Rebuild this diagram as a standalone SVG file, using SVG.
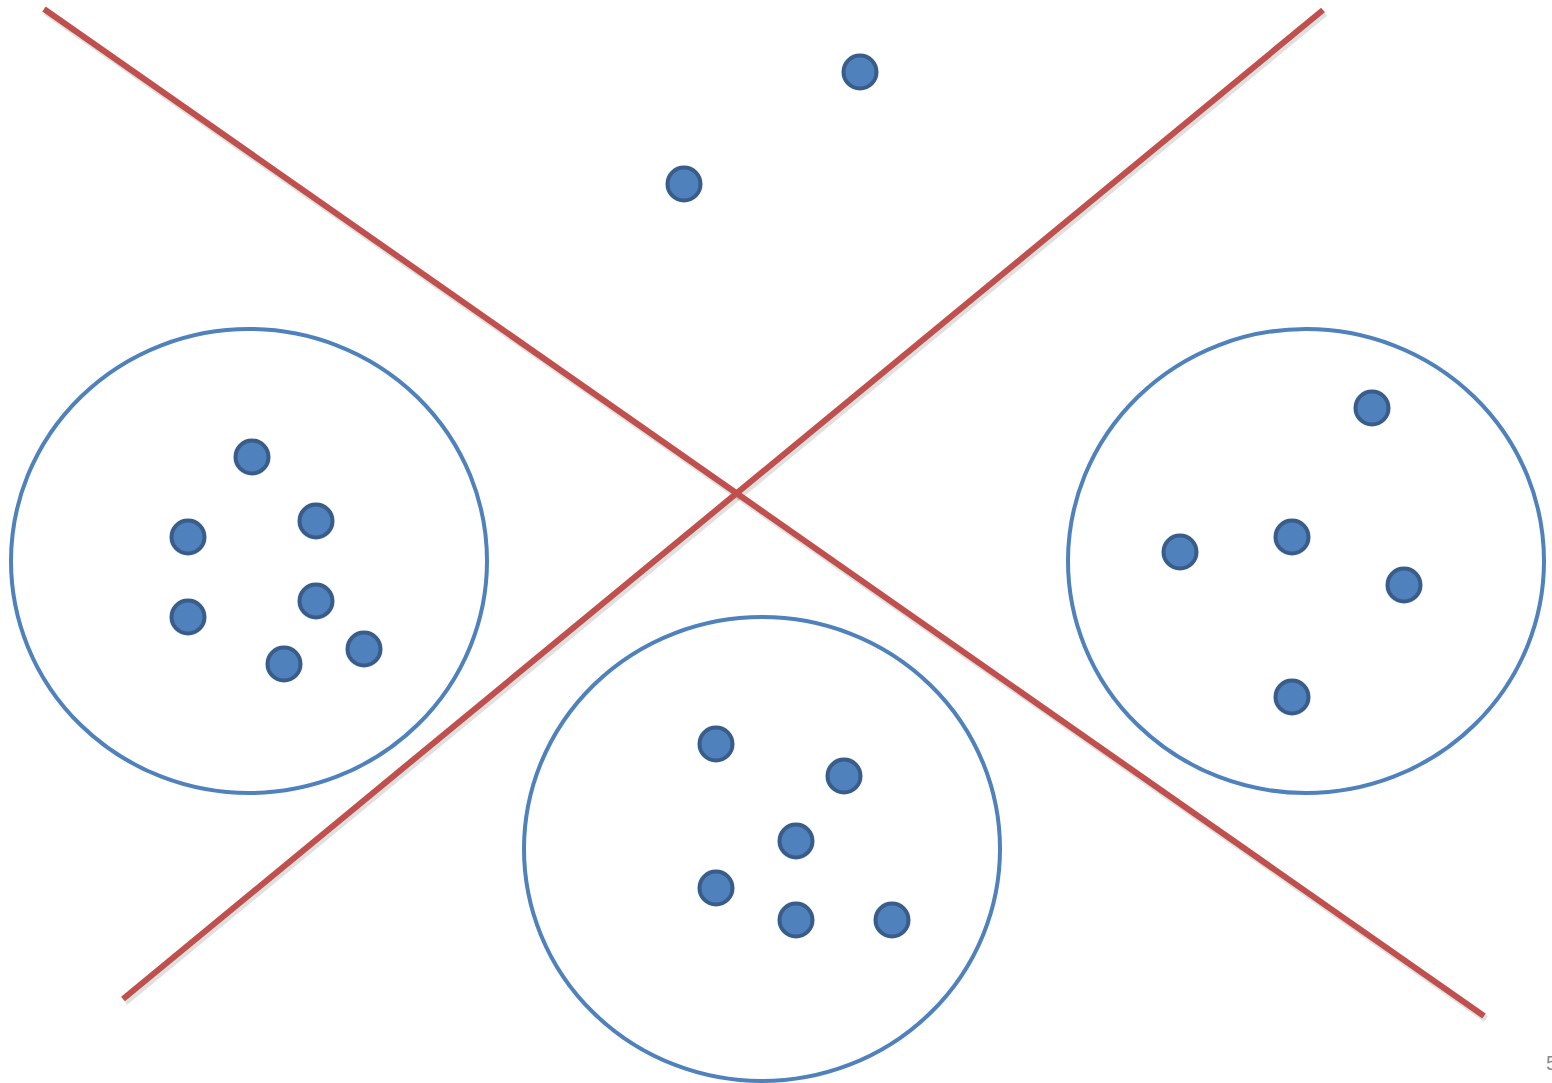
<svg xmlns="http://www.w3.org/2000/svg" width="1552" height="1083" viewBox="0 0 1552 1083">
<defs>
<style>
.cl{fill:none;stroke:#4F81BD;stroke-width:4}
.dv{stroke:#C0504D;stroke-width:6;stroke-linecap:butt}
.sh{stroke:#000;stroke-opacity:0.12;stroke-width:7}
.pt{fill:#4F81BD;stroke:#385D8A;stroke-width:4}
.num{font-family:"Liberation Sans",Arial,sans-serif;font-size:20px;fill:#8C8C8C}
</style>
</defs>
<rect width="1552" height="1083" fill="#fff"/>
<g id="clusters">
<ellipse id="cluster-left" class="cl" cx="249" cy="561" rx="238" ry="232"/>
<ellipse id="cluster-right" class="cl" cx="1306" cy="561" rx="238" ry="232"/>
<ellipse id="cluster-bottom" class="cl" cx="762" cy="849" rx="238" ry="232"/>
</g>
<g id="connectors">
<line class="sh" x1="46" y1="12" x2="1486" y2="1019"/>
<line class="sh" x1="1325" y1="13" x2="125" y2="1002"/>
<line class="dv" x1="44" y1="9" x2="1484" y2="1016"/>
<line class="dv" x1="1323" y1="10" x2="123" y2="999"/>
</g>
<g id="points">
<circle class="pt" cx="860" cy="72" r="16.5"/>
<circle class="pt" cx="684" cy="184" r="16.5"/>
<circle class="pt" cx="252" cy="457" r="16.5"/>
<circle class="pt" cx="316" cy="521" r="16.5"/>
<circle class="pt" cx="188" cy="537" r="16.5"/>
<circle class="pt" cx="316" cy="601" r="16.5"/>
<circle class="pt" cx="188" cy="617" r="16.5"/>
<circle class="pt" cx="284" cy="664" r="16.5"/>
<circle class="pt" cx="364" cy="649" r="16.5"/>
<circle class="pt" cx="1372" cy="408" r="16.5"/>
<circle class="pt" cx="1180" cy="552" r="16.5"/>
<circle class="pt" cx="1292" cy="537" r="16.5"/>
<circle class="pt" cx="1404" cy="585" r="16.5"/>
<circle class="pt" cx="1292" cy="697" r="16.5"/>
<circle class="pt" cx="716" cy="744" r="16.5"/>
<circle class="pt" cx="844" cy="776" r="16.5"/>
<circle class="pt" cx="796" cy="841" r="16.5"/>
<circle class="pt" cx="716" cy="888" r="16.5"/>
<circle class="pt" cx="796" cy="920" r="16.5"/>
<circle class="pt" cx="892" cy="920" r="16.5"/>
</g>
<text class="num" x="1546" y="1070">5</text>
</svg>
